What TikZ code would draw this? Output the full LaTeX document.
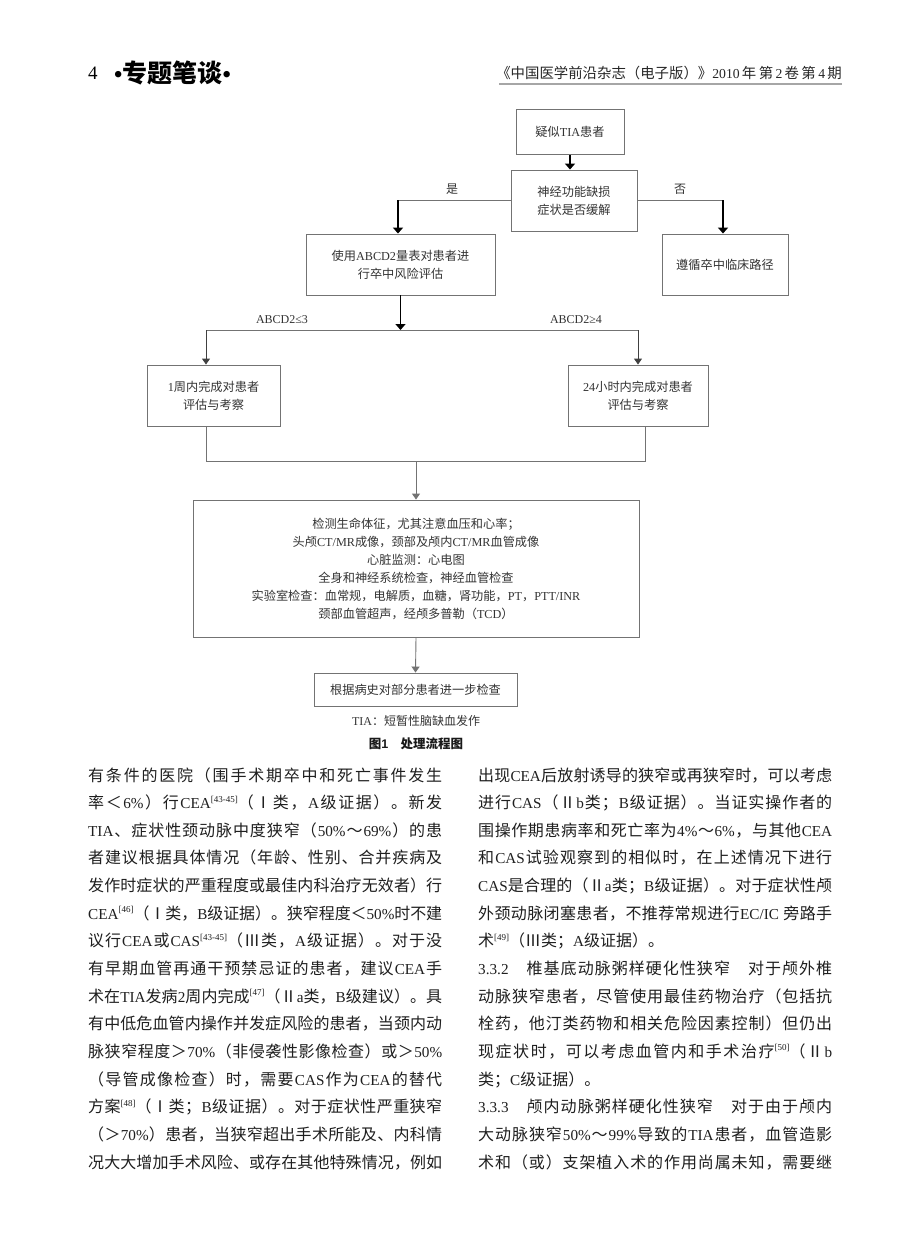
\documentclass[tikz,border=0pt]{standalone}
\usepackage{fontspec}
\usetikzlibrary{arrows.meta}
\setmainfont{Liberation Serif}
\newfontfamily\cjkf{Noto Sans CJK SC}
\newfontfamily\latinf[Scale=0.95]{Liberation Serif}
\newfontfamily\latinfull{Liberation Serif}
\newfontfamily\latinsf{Liberation Sans}
\newcommand\curlatin{\latinf}
\newXeTeXintercharclass\CJKcls
\newcount\ccn
\def\setcjkrange#1#2{\ccn=#1\relax\loop\XeTeXcharclass\ccn=\CJKcls\relax\ifnum\ccn<#2\relax\advance\ccn by 1\relax\repeat}
\setcjkrange{"3000}{"303F}
\setcjkrange{"4E00}{"9FFF}
\setcjkrange{"FF00}{"FFEF}
\setcjkrange{"2160}{"217F}
\newcommand\cjkglue{\hskip 0pt plus 1pt minus 1pt\relax}
\XeTeXinterchartoks\CJKcls\CJKcls={\cjkglue}
\XeTeXinterchartoks 0 \CJKcls={\cjkglue\cjkf}
\XeTeXinterchartoks\CJKcls 0 ={\cjkglue\curlatin}
\XeTeXinterchartoks 4095 \CJKcls={\cjkf}
\XeTeXinterchartoks 4095 0 ={\curlatin}
\XeTeXinterchartokenstate=1
\newcommand\sref[1]{\raisebox{0.42em}{\fontsize{9.5}{10}\selectfont#1}}
\newcommand\jl[1]{\hbox to 354pt{#1}}
\begin{document}
\begin{tikzpicture}[x=1pt,y=-1pt,
  box/.style={draw=black!55, line width=0.9pt, inner sep=0pt, align=center,
    text=black!80, font=\let\curlatin\latinfull\fontsize{12.2}{18}\selectfont},
  lbl/.style={inner sep=0pt, text=black!80, font=\let\curlatin\latinfull\fontsize{12}{14}\selectfont},
  conn/.style={draw=black!55, line width=0.9pt},
  thk/.style={draw=black, line width=1.8pt},
  tipB/.style={-{Triangle[width=10pt,length=6pt]}},
  tipS/.style={-{Triangle[width=8pt,length=6pt]}},
  body/.style={anchor=west, inner sep=0pt, text height=14pt, text depth=2pt,
    text=black!88, font=\fontsize{16}{20}\selectfont}]
\useasboundingbox (0,0) rectangle (920,1249);
\fill[white] (0,0) rectangle (920,1249);
% header
\node[anchor=west, inner sep=0pt, font=\fontsize{20}{20}\selectfont] (pg) at (88,73) {4};
\node[anchor=west, inner sep=0pt, font=\fontsize{25}{26}\selectfont\bfseries] (col) at (114,73) {•专题笔谈•};
\node[anchor=east, inner sep=0pt, text=black!85, font=\fontsize{14.4}{15}\selectfont] (hdr) at (842,73) {《中国医学前沿杂志（电子版）》2010\,年\,第\,2\,卷\,第\,4\,期};
\coordinate (u1) at (499,84);
\coordinate (u2) at (842,84);
\draw[black!35, line width=1.2pt] (u1) -- (u2);
% flowchart
\node[box, minimum width=108pt, minimum height=45pt] (b1) at (570,132) {疑似TIA患者};
\node[box, minimum width=126pt, minimum height=61pt] (b2) at (574,200.5) {神经功能缺损\\症状是否缓解};
\node[box, minimum width=189pt, minimum height=61pt] (b3) at (400.5,264.5) {使用ABCD2量表对患者进\\行卒中风险评估};
\node[box, minimum width=126pt, minimum height=61pt] (b4) at (725,264.5) {遵循卒中临床路径};
\node[box, minimum width=133pt, minimum height=61pt] (b5) at (213.5,395.5) {1周内完成对患者\\评估与考察};
\node[box, minimum width=140pt, minimum height=61pt] (b6) at (638,395.5) {24小时内完成对患者\\评估与考察};
\node[box, minimum width=446pt, minimum height=137pt] (b7) at (416,568.5) {检测生命体征，尤其注意血压和心率；\\头颅CT/MR成像，颈部及颅内CT/MR血管成像\\心脏监测：心电图\\全身和神经系统检查，神经血管检查\\实验室检查：血常规，电解质，血糖，肾功能，PT，PTT/INR\\颈部血管超声，经颅多普勒（TCD）};
\node[box, minimum width=203pt, minimum height=33pt] (b8) at (415.5,689.5) {根据病史对部分患者进一步检查};
\node[lbl] (yes) at (452,189) {是};
\node[lbl] (no) at (680,189) {否};
\node[lbl] (low) at (282,320) {ABCD2≤3};
\node[lbl] (high) at (576,320) {ABCD2≥4};
\node[lbl] (note) at (416,721) {TIA：短暂性脑缺血发作};
\node[inner sep=0pt, text=black!90, font=\fontsize{12.5}{14}\selectfont\bfseries] (cap) at (416,744) {\renewcommand\curlatin{\latinsf}图1　处理流程图};
% connectors
\draw[thk,tipB] (b1.south) -- (b1.south |- b2.north);
\coordinate (cy) at (398,200.5);
\coordinate (cn) at (723,200.5);
\draw[conn] (b2.west) -- (cy);
\draw[conn] (b2.east) -- (cn);
\draw[thk,tipB] (cy) -- (cy |- b3.north);
\draw[thk,tipB] (cn) -- (cn |- b4.north);
\coordinate (split) at (400.5,330);
\draw[thk,tipB] (b3.south) -- (split);
\coordinate (sl) at (206,330);
\coordinate (sr) at (638,330);
\draw[conn] (sl) -- (sr);
\draw[conn,draw=black!75,tipS] (sl) -- (sl |- b5.north);
\draw[conn,draw=black!75,tipS] (sr) -- (sr |- b6.north);
\coordinate (jl) at (206,461);
\coordinate (jr) at (645,461);
\coordinate (jm) at (416,461);
\draw[conn] (b5.south -| jl) -- (jl) -- (jr) -- (b6.south -| jr);
\draw[conn,tipS] (jm) -- (jm |- b7.north);
\draw[conn,tipS] (b7.south) -- (b8.north);
% left column
\node[body] (l1) at (88,775) {\jl{有条件的医院（围手术期卒中和死亡事件发生}};
\node[body] (l2) at (88,802.65) {\jl{率＜6\%）行CEA\sref{[43-45]}（Ⅰ类，A级证据）。新发}};
\node[body] (l3) at (88,830.3) {\jl{TIA、症状性颈动脉中度狭窄（50\%～69\%）的患}};
\node[body] (l4) at (88,857.95) {\jl{者建议根据具体情况（年龄、性别、合并疾病及}};
\node[body] (l5) at (88,885.6) {\jl{发作时症状的严重程度或最佳内科治疗无效者）行}};
\node[body] (l6) at (88,913.25) {\jl{CEA\sref{[46]}（Ⅰ类，B级证据）。狭窄程度＜50\%时不建}};
\node[body] (l7) at (88,940.9) {\jl{议行CEA或CAS\sref{[43-45]}（Ⅲ类，A级证据）。对于没}};
\node[body] (l8) at (88,968.55) {\jl{有早期血管再通干预禁忌证的患者，建议CEA手}};
\node[body] (l9) at (88,996.2) {\jl{术在TIA发病2周内完成\sref{[47]}（Ⅱa类，B级建议）。具}};
\node[body] (l10) at (88,1023.85) {\jl{有中低危血管内操作并发症风险的患者，当颈内动}};
\node[body] (l11) at (88,1051.5) {\jl{脉狭窄程度＞70\%（非侵袭性影像检查）或＞50\%}};
\node[body] (l12) at (88,1079.15) {\jl{（导管成像检查）时，需要CAS作为CEA的替代}};
\node[body] (l13) at (88,1106.8) {\jl{方案\sref{[48]}（Ⅰ类；B级证据）。对于症状性严重狭窄}};
\node[body] (l14) at (88,1134.45) {\jl{（＞70\%）患者，当狭窄超出手术所能及、内科情}};
\node[body] (l15) at (88,1162.1) {\jl{况大大增加手术风险、或存在其他特殊情况，例如}};
% right column
\node[body] (r1) at (478,775) {\jl{出现CEA后放射诱导的狭窄或再狭窄时，可以考虑}};
\node[body] (r2) at (478,802.65) {\jl{进行CAS（Ⅱb类；B级证据）。当证实操作者的}};
\node[body] (r3) at (478,830.3) {\jl{围操作期患病率和死亡率为4\%～6\%，与其他CEA}};
\node[body] (r4) at (478,857.95) {\jl{和CAS试验观察到的相似时，在上述情况下进行}};
\node[body] (r5) at (478,885.6) {\jl{CAS是合理的（Ⅱa类；B级证据）。对于症状性颅}};
\node[body] (r6) at (478,913.25) {\jl{外颈动脉闭塞患者，不推荐常规进行EC/IC 旁路手}};
\node[body] (r7) at (478,940.9) {术\sref{[49]}（Ⅲ类；A级证据）。};
\node[body] (r8) at (478,968.55) {\jl{3.3.2　椎基底动脉粥样硬化性狭窄　对于颅外椎}};
\node[body] (r9) at (478,996.2) {\jl{动脉狭窄患者，尽管使用最佳药物治疗（包括抗}};
\node[body] (r10) at (478,1023.85) {\jl{栓药，他汀类药物和相关危险因素控制）但仍出}};
\node[body] (r11) at (478,1051.5) {\jl{现症状时，可以考虑血管内和手术治疗\sref{[50]}（Ⅱb}};
\node[body] (r12) at (478,1079.15) {类；C级证据）。};
\node[body] (r13) at (478,1106.8) {\jl{3.3.3　颅内动脉粥样硬化性狭窄　对于由于颅内}};
\node[body] (r14) at (478,1134.45) {\jl{大动脉狭窄50\%～99\%导致的TIA患者，血管造影}};
\node[body] (r15) at (478,1162.1) {\jl{术和（或）支架植入术的作用尚属未知，需要继}};
\end{tikzpicture}
\end{document}
